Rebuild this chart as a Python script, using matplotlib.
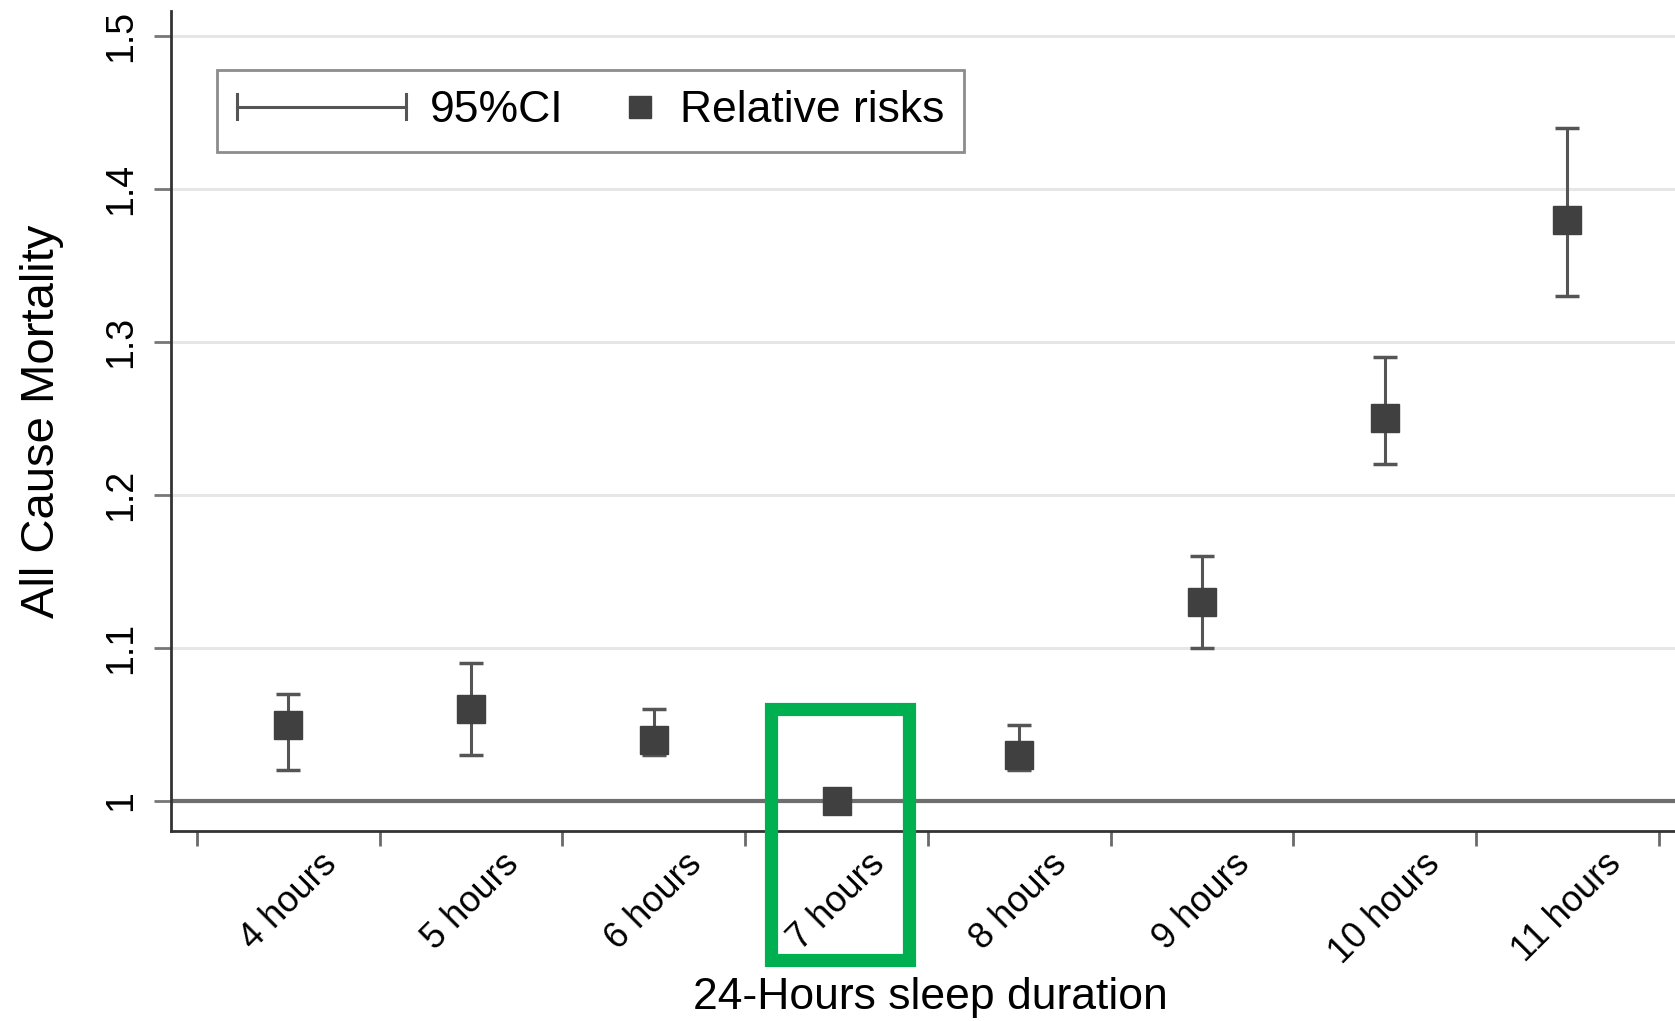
import numpy as np
import matplotlib
matplotlib.use("Agg")
import matplotlib.pyplot as plt
import matplotlib.transforms as mtransforms
from matplotlib.lines import Line2D
from matplotlib.legend_handler import HandlerBase
from matplotlib.patches import Rectangle

plt.rcParams["font.family"] = ["Liberation Sans", "DejaVu Sans"]

# Sleep duration categories and relative risks of all-cause mortality
categories = ["4 hours", "5 hours", "6 hours", "7 hours",
              "8 hours", "9 hours", "10 hours", "11 hours"]
relative_risk = [1.05, 1.06, 1.04, 1.00, 1.03, 1.13, 1.25, 1.38]
ci_lower = [1.02, 1.03, 1.03, 1.00, 1.02, 1.10, 1.22, 1.33]
ci_upper = [1.07, 1.09, 1.06, 1.00, 1.05, 1.16, 1.29, 1.44]
reference_category = "7 hours"

y_ticks = [1.0, 1.1, 1.2, 1.3, 1.4, 1.5]
y_tick_labels = ["1", "1.1", "1.2", "1.3", "1.4", "1.5"]

MARKER_COLOR = "#404040"
BAR_COLOR = "#555555"


class ConfidenceIntervalHandler(HandlerBase):
    """Legend key: a horizontal line with short end caps."""

    def create_artists(self, legend, orig_handle, xdescent, ydescent,
                       width, height, fontsize, trans):
        y = height / 2 - ydescent
        x0, x1 = -xdescent, -xdescent + width
        cap = 0.28 * fontsize
        artists = [
            Line2D([x0, x1], [y, y], color=BAR_COLOR, lw=2.2),
            Line2D([x0, x0], [y - cap, y + cap], color=BAR_COLOR, lw=2.2),
            Line2D([x1, x1], [y - cap, y + cap], color=BAR_COLOR, lw=2.2),
        ]
        for a in artists:
            a.set_transform(trans)
        return artists


class RightMarkerHandler(HandlerBase):
    """Legend key: a square marker placed at the right end of the key area."""

    def create_artists(self, legend, orig_handle, xdescent, ydescent,
                       width, height, fontsize, trans):
        y = height / 2 - ydescent
        x = -xdescent + width - 0.38 * fontsize
        m = Line2D([x], [y], marker="s", ls="none", ms=16,
                   mfc=MARKER_COLOR, mec=MARKER_COLOR)
        m.set_transform(trans)
        return [m]


fig = plt.figure(figsize=(16.75, 10.21), dpi=100)
ax = fig.add_axes([171 / 1675, 1 - 831 / 1021, 1 - 171 / 1675, 820 / 1021])

x = np.arange(len(categories))
rr = np.array(relative_risk)
lo = np.array(ci_lower)
hi = np.array(ci_upper)

ax.yaxis.grid(True, color="#e6e6e6", lw=2.2)
ax.set_axisbelow(True)
ax.axhline(1.0, color="#6e6e6e", lw=3, zorder=2)

ax.errorbar(x, rr, yerr=[rr - lo, hi - rr], fmt="none", ecolor=BAR_COLOR,
            elinewidth=2.2, capsize=8.5, capthick=2.5, zorder=3)
ax.plot(x, rr, "s", ms=19.5, mfc=MARKER_COLOR, mec=MARKER_COLOR, zorder=4)

ax.set_xlim(-0.643, 7.59)
ax.set_ylim(0.9804, 1.5163)

# category labels centred under each point, tick marks between categories
ax.set_xticks(x, categories, rotation=45, ha="center", va="top", fontsize=26)
ax.set_xticks(np.arange(len(categories) + 1) - 0.5, minor=True)
ax.tick_params(axis="x", which="major", length=0, pad=11)
ax.tick_params(axis="x", which="minor", length=11, width=2, color="#6a6a6a")

ax.set_yticks(y_ticks, y_tick_labels, rotation=90, va="center", fontsize=27)
ax.tick_params(axis="y", length=12, width=2, color="#777777", pad=11)

for side in ("top", "right"):
    ax.spines[side].set_visible(False)
for side in ("left", "bottom"):
    ax.spines[side].set_color("#333333")
    ax.spines[side].set_linewidth(2)

ax.set_xlabel("24-Hours sleep duration", fontsize=32)
ax.xaxis.set_label_coords(0.5047, -0.178)
ax.set_ylabel("All Cause Mortality", fontsize=34)
ax.yaxis.set_label_coords(-0.071, 0.5)

# highlight the reference category
ref_idx = categories.index(reference_category)
trans = mtransforms.blended_transform_factory(ax.transData, ax.transAxes)
ax.add_patch(Rectangle((ref_idx - 0.359, -0.157), 0.756, 0.306, fill=False,
                       ec="#00b050", lw=9.5, transform=trans, clip_on=False,
                       zorder=5))

ci_key = Line2D([], [])
rr_key = Line2D([], [])
leg = ax.legend([ci_key, rr_key], ["95%CI", "Relative risks"], ncol=2,
                handler_map={ci_key: ConfidenceIntervalHandler(),
                             rr_key: RightMarkerHandler()},
                loc="upper left", bbox_to_anchor=(0.0306, 0.928),
                borderaxespad=0, fontsize=32, handlelength=3.8,
                handletextpad=0.52, columnspacing=-1.7, borderpad=0.46,
                frameon=True, fancybox=False, framealpha=1)
leg.get_frame().set_edgecolor("#8c8c8c")
leg.get_frame().set_linewidth(2)

fig.savefig("out.png", dpi=100)
